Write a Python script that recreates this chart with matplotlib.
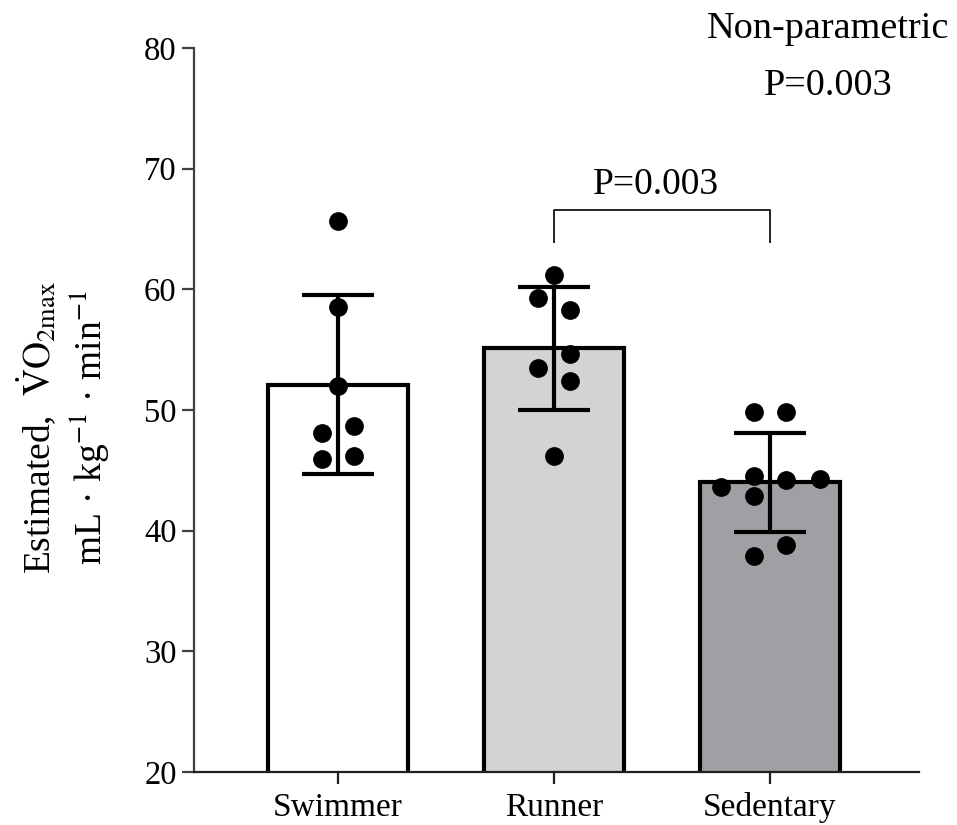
import numpy as np
import matplotlib.pyplot as plt

plt.rcParams['font.family'] = ['Liberation Serif', 'DejaVu Serif']
plt.rcParams['mathtext.fontset'] = 'stix'

groups = ['Swimmer', 'Runner', 'Sedentary']
means = [52.1, 55.1, 44.0]
sds = [7.4, 5.1, 4.1]
swimmer = [65.7, 58.5, 52.0, 48.1, 48.7, 45.9, 46.2]
runner = [61.2, 59.3, 58.3, 54.6, 53.5, 52.4, 46.2]
sedentary = [49.8, 49.8, 44.5, 44.2, 44.3, 43.6, 42.9, 38.8, 37.9]
p_pair = 'P=0.003'
p_overall = 'P=0.003'

# horizontal spread of the dots inside each bar
spread = [
    [0, 0, 0, -0.076, 0.076, -0.076, 0.076],
    [0, -0.076, 0.076, 0.076, -0.076, 0.076, 0],
    [-0.076, 0.076, -0.076, 0.076, 0.23, -0.225, -0.076, 0.076, -0.076],
]
fills = ['white', '#d3d3d3', '#a0a0a4']

fig = plt.figure(figsize=(9.57, 8.25), dpi=100)
ax = fig.add_axes([194/957, 1 - 772/825, (919 - 194)/957, (772 - 48)/825])

x = np.arange(len(groups))
ax.bar(x, means, width=0.645, bottom=0, color=fills, edgecolor='black',
       linewidth=3, zorder=2)
ax.errorbar(x, means, yerr=sds, fmt='none', ecolor='black', elinewidth=3,
            capsize=26, capthick=3, zorder=3)

for i, vals in enumerate([swimmer, runner, sedentary]):
    xs = i + np.array(spread[i])
    ax.plot(xs, vals, 'o', color='black', markersize=12.5, zorder=4,
            clip_on=False)

# comparison bracket Runner vs Sedentary
ax.plot([1, 1, 2, 2], [63.9, 66.6, 66.6, 63.9], color='#222222', lw=1.4,
        zorder=3)
ax.text(1.47, 67.9, p_pair, ha='center', va='baseline', fontsize=27)

ax.set_ylim(20, 80)
ax.set_xlim(-0.667, 2.69)
ax.set_yticks(np.arange(20, 81, 10))
ax.set_xticks(x)
ax.set_xticklabels(groups)
ax.spines['top'].set_visible(False)
ax.spines['right'].set_visible(False)
ax.spines['left'].set_linewidth(1.6)
ax.spines['left'].set_color('#404040')
ax.spines['bottom'].set_linewidth(1.6)
ax.spines['bottom'].set_color('#202020')
ax.tick_params(axis='y', length=8.5, width=1.6, color='#404040', pad=4,
               labelsize=23.5)
ax.tick_params(axis='x', length=8.5, width=1.6, color='#202020', pad=6,
               labelsize=24)

fig.text(828/957, 1 - 38/825, 'Non-parametric', ha='center', va='baseline',
         fontsize=27.5)
fig.text(828/957, 1 - 95/825, p_overall, ha='center', va='baseline',
         fontsize=27.5)

ylab_y = 1 - 428/825
fig.text(51/957, ylab_y, r'Estimated,  $\dot{\mathrm{V}}\mathrm{O}_{2\mathrm{max}}$',
         rotation=90, rotation_mode='anchor', ha='center', va='baseline',
         fontsize=27)
fig.text(102/957, ylab_y, r'mL · kg$^{-1}$ · min$^{-1}$',
         rotation=90, rotation_mode='anchor', ha='center', va='baseline',
         fontsize=27)

fig.savefig('out.png', dpi=100)
